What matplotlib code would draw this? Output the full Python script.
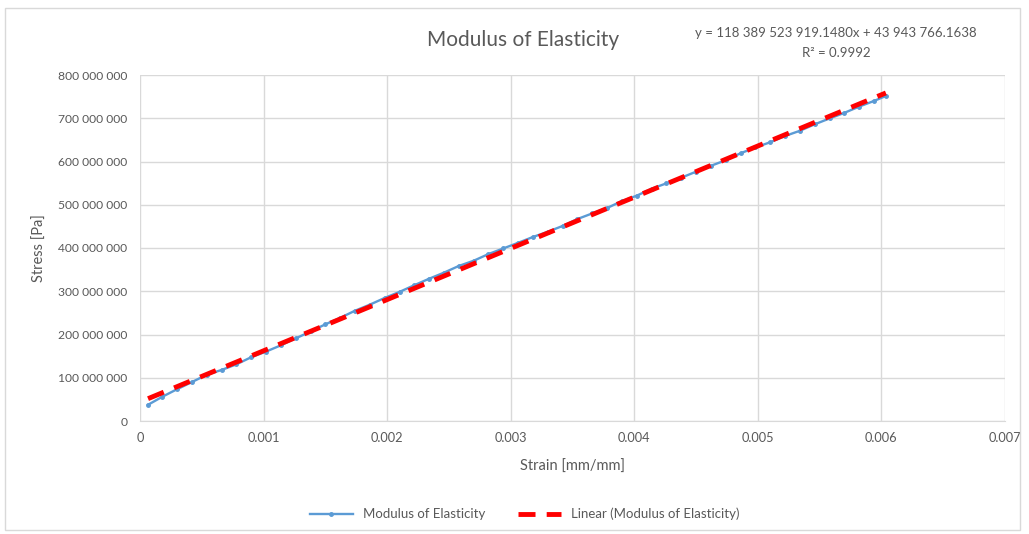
import matplotlib
matplotlib.use("Agg")
import matplotlib.pyplot as plt
from matplotlib.ticker import FuncFormatter
from matplotlib.patches import Rectangle

plt.rcParams['font.family'] = ['Lato', 'DejaVu Sans']

# Measured strain [mm/mm] and stress [Pa]
strain = [0.000065, 0.000180, 0.000300, 0.000420, 0.000540, 0.000660, 0.000780,
          0.000900, 0.001020, 0.001140, 0.001260, 0.001380, 0.001500, 0.001620,
          0.001740, 0.001860, 0.001980, 0.002100, 0.002220, 0.002340, 0.002460,
          0.002580, 0.002700, 0.002820, 0.002940, 0.003060, 0.003180, 0.003300,
          0.003420, 0.003540, 0.003660, 0.003780, 0.003900, 0.004020, 0.004140,
          0.004260, 0.004380, 0.004500, 0.004620, 0.004740, 0.004860, 0.004980,
          0.005100, 0.005220, 0.005340, 0.005460, 0.005580, 0.005700, 0.005820,
          0.005940, 0.006036]
stress_mpa = [37.5, 56, 73.5, 90, 107, 118, 131, 147.5, 160.5, 175, 191, 207,
              223.5, 238.5, 255, 269, 284.5, 298.5, 314, 329, 343, 358.5, 370.5,
              386, 399, 412, 425.5, 437.5, 451, 467, 480, 492.5, 508.5, 521, 537,
              549.5, 562.5, 576.5, 590, 603, 619, 632.5, 644.5, 659, 671, 686,
              699.5, 712.5, 727, 740, 751.5]
stress = [v * 1e6 for v in stress_mpa]

# Linear trendline coefficients
slope = 118389523919.1480
intercept = 43943766.1638
r_squared = 0.9992

x_ticks = [0, 0.001, 0.002, 0.003, 0.004, 0.005, 0.006, 0.007]
y_ticks = [0, 100e6, 200e6, 300e6, 400e6, 500e6, 600e6, 700e6, 800e6]

text_color = '#595959'
grid_color = '#d9d9d9'

fig = plt.figure(figsize=(10.29, 5.34), dpi=100)
ax = fig.add_axes([140 / 1029, 1 - 421 / 534, 865 / 1029, 346 / 534])

ax.plot(strain, stress, color='#5B9BD5', lw=1.7, marker='o', ms=2.5,
        label='Modulus of Elasticity', zorder=3)
trend_x = [strain[0], strain[-1]]
trend_y = [slope * x + intercept for x in trend_x]
ax.plot(trend_x, trend_y, color='#FF0000', lw=3.5, ls=(0, (3.5, 2.3)),
        label='Linear (Modulus of Elasticity)', zorder=4)

ax.set_xlim(0, 0.007)
ax.set_ylim(0, 800e6)
ax.set_xticks(x_ticks)
ax.set_yticks(y_ticks)
ax.xaxis.set_major_formatter(FuncFormatter(lambda v, p: f'{v:g}'))
ax.yaxis.set_major_formatter(
    FuncFormatter(lambda v, p: f'{int(round(v)):,}'.replace(',', ' ')))
ax.tick_params(axis='y', length=0, labelsize=8.7, colors=text_color, pad=9)
ax.tick_params(axis='x', length=0, labelsize=9.2, colors=text_color, pad=8)
ax.grid(True, color=grid_color, lw=1)
ax.set_axisbelow(True)
for s in ['top', 'right', 'left']:
    ax.spines[s].set_visible(False)
ax.spines['bottom'].set_color(grid_color)

ax.set_xlabel('Strain [mm/mm]', fontsize=10.5, color=text_color, labelpad=11)
ax.set_ylabel('Stress [Pa]', fontsize=10.5, color=text_color, labelpad=8)

fig.text(523 / 1029, 1 - 40 / 534, 'Modulus of Elasticity', fontsize=15,
         color=text_color, ha='center', va='center')
eq = f'y = {slope:,.4f}x + {intercept:,.4f}'.replace(',', ' ')
fig.text(836 / 1029, 1 - 33 / 534, eq, fontsize=9.5, color=text_color,
         ha='center', va='center')
fig.text(836 / 1029, 1 - 53 / 534, f'R² = {r_squared}', fontsize=9.5,
         color=text_color, ha='center', va='center')

leg = fig.legend(loc='center', bbox_to_anchor=(525 / 1029, 1 - 514 / 534),
                 ncol=2, frameon=False, fontsize=9.5, handlelength=3.2,
                 columnspacing=2.5)
for t in leg.get_texts():
    t.set_color(text_color)

fig.patches.append(Rectangle((5 / 1029, 4 / 534), 1015 / 1029, 522 / 534,
                             transform=fig.transFigure, fill=False,
                             edgecolor=grid_color, lw=1))

fig.savefig('out.png', dpi=100)
